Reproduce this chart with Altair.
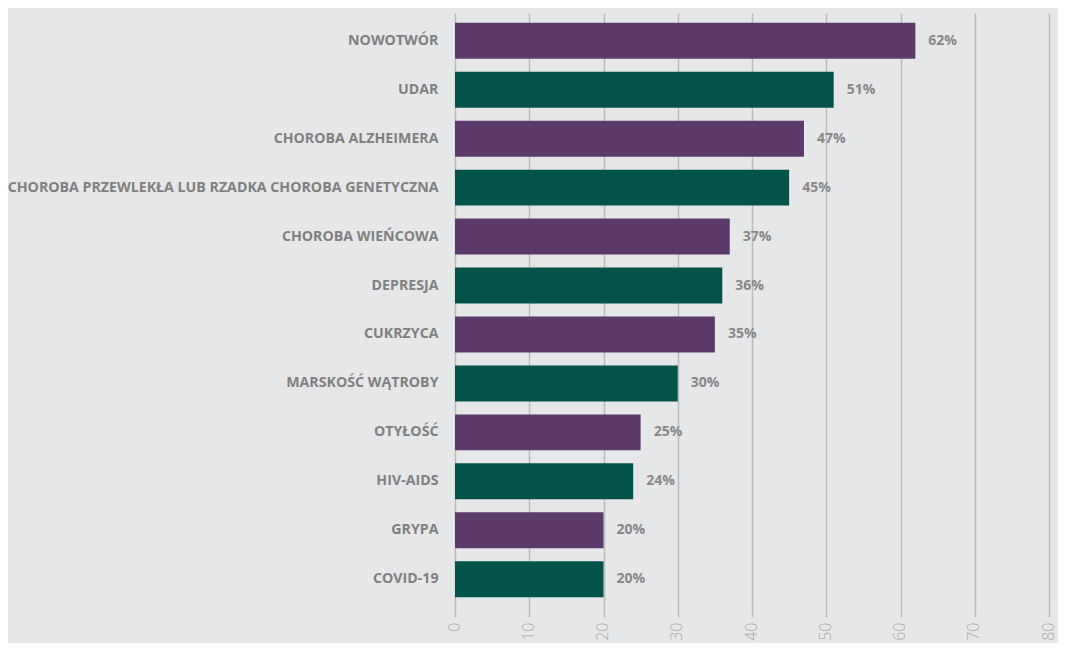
import altair as alt
import pandas as pd

categories = ["NOWOTWÓR", "UDAR", "CHOROBA ALZHEIMERA",
              "CHOROBA PRZEWLEKŁA LUB RZADKA CHOROBA GENETYCZNA",
              "CHOROBA WIEŃCOWA", "DEPRESJA", "CUKRZYCA", "MARSKOŚĆ WĄTROBY",
              "OTYŁOŚĆ", "HIV-AIDS", "GRYPA", "COVID-19"]
values = [62, 51, 47, 45, 37, 36, 35, 30, 25, 24, 20, 20]
groups = ["a", "b"] * 6
colors = ["#5b3a6b", "#04534a"]

df = pd.DataFrame({"cat": categories, "val": values, "grp": groups,
                   "lab": [f"{v}%" for v in values]})

base = alt.Chart(df).encode(
    y=alt.Y("cat:N", sort=None, title=None,
            scale=alt.Scale(paddingInner=0.265, paddingOuter=0.2),
            axis=alt.Axis(domain=False, ticks=False, labelPadding=17,
                          labelFont="Open Sans", labelFontWeight="bold",
                          labelFontSize=14.2, labelColor="#808080",
                          labelLimit=600)),
)

bars = base.mark_bar().encode(
    x=alt.X("val:Q", title=None,
            scale=alt.Scale(domain=[0, 80], nice=False),
            axis=alt.Axis(values=list(range(0, 81, 10)), grid=True,
                          gridColor="#bcbcbc", gridWidth=1.5,
                          domain=False, tickColor="#bcbcbc", tickWidth=1.5,
                          tickSize=10, labelAngle=-90, labelPadding=5,
                          labelOffset=-1,
                          labelFont="Open Sans", labelFontWeight=300,
                          labelFontSize=16, labelColor="#a8a8a8")),
    color=alt.Color("grp:N", scale=alt.Scale(domain=["a", "b"], range=colors),
                    legend=None),
)

text = base.mark_text(align="left", dx=13, font="Open Sans",
                      fontWeight="bold", fontSize=14, color="#888888").encode(
    x="val:Q", text="lab:N")

chart = (bars + text).properties(
    width=594, height=594, background="#e6e7e9",
    padding={"left": 447, "top": 5, "right": 9, "bottom": 36},
    autosize=alt.AutoSizeParams(type="none"),
).configure_view(stroke=None)

chart.save("out.html", embed_options={"renderer": "svg", "actions": False})
